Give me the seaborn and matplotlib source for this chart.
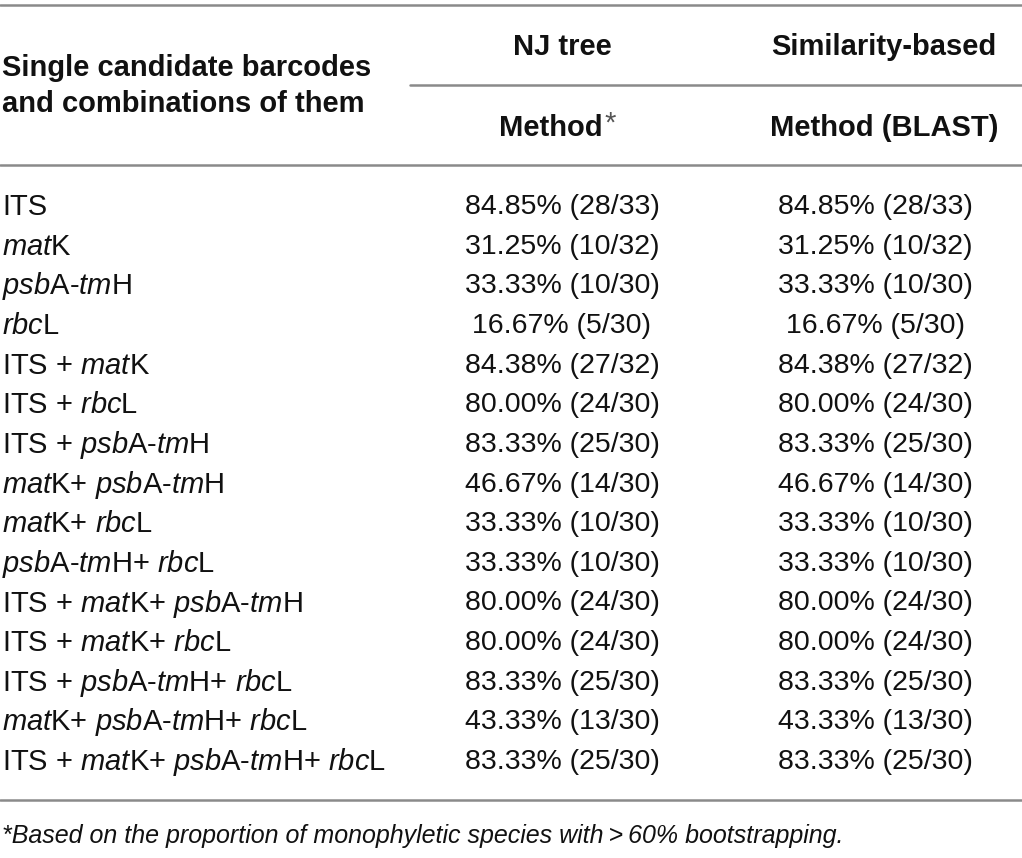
import matplotlib
matplotlib.use("Agg")
import matplotlib.pyplot as plt
import seaborn as sns

# barcode labels, $...$ parts are set in italics
barcodes = [
    r"ITS",
    r"$\mathit{mat}$K",
    r"$\mathit{psb}$A-$\mathit{tm}$H",
    r"$\mathit{rbc}$L",
    r"ITS + $\mathit{mat}$K",
    r"ITS + $\mathit{rbc}$L",
    r"ITS + $\mathit{psb}$A-$\mathit{tm}$H",
    r"$\mathit{mat}$K+ $\mathit{psb}$A-$\mathit{tm}$H",
    r"$\mathit{mat}$K+ $\mathit{rbc}$L",
    r"$\mathit{psb}$A-$\mathit{tm}$H+ $\mathit{rbc}$L",
    r"ITS + $\mathit{mat}$K+ $\mathit{psb}$A-$\mathit{tm}$H",
    r"ITS + $\mathit{mat}$K+ $\mathit{rbc}$L",
    r"ITS + $\mathit{psb}$A-$\mathit{tm}$H+ $\mathit{rbc}$L",
    r"$\mathit{mat}$K+ $\mathit{psb}$A-$\mathit{tm}$H+ $\mathit{rbc}$L",
    r"ITS + $\mathit{mat}$K+ $\mathit{psb}$A-$\mathit{tm}$H+ $\mathit{rbc}$L",
]
nj_pct = ["84.85", "31.25", "33.33", "16.67", "84.38", "80.00", "83.33", "46.67",
          "33.33", "33.33", "80.00", "80.00", "83.33", "43.33", "83.33"]
nj_hits = [28, 10, 10, 5, 27, 24, 25, 14, 10, 10, 24, 24, 25, 13, 25]
blast_pct = ["84.85", "31.25", "33.33", "16.67", "84.38", "80.00", "83.33", "46.67",
             "33.33", "33.33", "80.00", "80.00", "83.33", "43.33", "83.33"]
blast_hits = [28, 10, 10, 5, 27, 24, 25, 14, 10, 10, 24, 24, 25, 13, 25]
totals = [33, 32, 30, 30, 32, 30, 30, 30, 30, 30, 30, 30, 30, 30, 30]

header_left = ["Single candidate barcodes", "and combinations of them"]
header_nj = ["NJ tree", "Method"]
header_blast = ["Similarity-based", "Method (BLAST)"]
footnote = "*Based on the proportion of monophyletic species with\u2009>\u200960% bootstrapping."

sns.set_theme(style="white")
plt.rcParams["font.family"] = ["Liberation Sans", "DejaVu Sans"]
plt.rcParams["mathtext.fontset"] = "custom"
plt.rcParams["mathtext.rm"] = "Liberation Sans"
plt.rcParams["mathtext.it"] = "Liberation Sans:italic"

fig = plt.figure(figsize=(10.22, 8.58), dpi=100)
ax = fig.add_axes([0, 0, 1, 1])
ax.set_xlim(0, 1022)
ax.set_ylim(858, 0)
ax.axis("off")

fs_head = 21
fs_lab = 21
fs_num = 20.5
txt = "#111111"
line_c = "#8a8a8a"

# rules
ax.axhline(5, color=line_c, lw=1.8)
ax.plot([410, 1022], [85, 85], color=line_c, lw=1.8)
ax.axhline(165, color=line_c, lw=1.8)
ax.axhline(800, color=line_c, lw=1.8)

# header
ax.text(2, 68, header_left[0], fontsize=fs_head, fontweight="bold", va="center", ha="left", color=txt)
ax.text(2, 104, header_left[1], fontsize=fs_head, fontweight="bold", va="center", ha="left", color=txt)
ax.text(562, 47, header_nj[0], fontsize=fs_head, fontweight="bold", va="center", ha="center", color=txt)
ax.text(603, 128, header_nj[1], fontsize=fs_head, fontweight="bold", va="center", ha="right", color=txt)
ax.text(604, 124, "*", fontsize=fs_head, va="center", ha="left", color="#555555")
ax.text(884, 47, header_blast[0], fontsize=fs_head, fontweight="bold", va="center", ha="center", color=txt)
ax.text(884, 128, header_blast[1], fontsize=fs_head, fontweight="bold", va="center", ha="center", color=txt)

# body
row0, step = 207, 39.65
for i, lab in enumerate(barcodes):
    y = row0 + i * step
    ax.text(2, y, lab, fontsize=fs_lab, va="center", ha="left", color=txt)
    ax.text(562, y, f"{nj_pct[i]}% ({nj_hits[i]}/{totals[i]})", fontsize=fs_num,
            va="center", ha="center", color=txt)
    ax.text(875, y, f"{blast_pct[i]}% ({blast_hits[i]}/{totals[i]})", fontsize=fs_num,
            va="center", ha="center", color=txt)

ax.text(2, 836, footnote, fontsize=18, style="italic", va="center", ha="left", color=txt)

fig.savefig("out.png", dpi=100)
